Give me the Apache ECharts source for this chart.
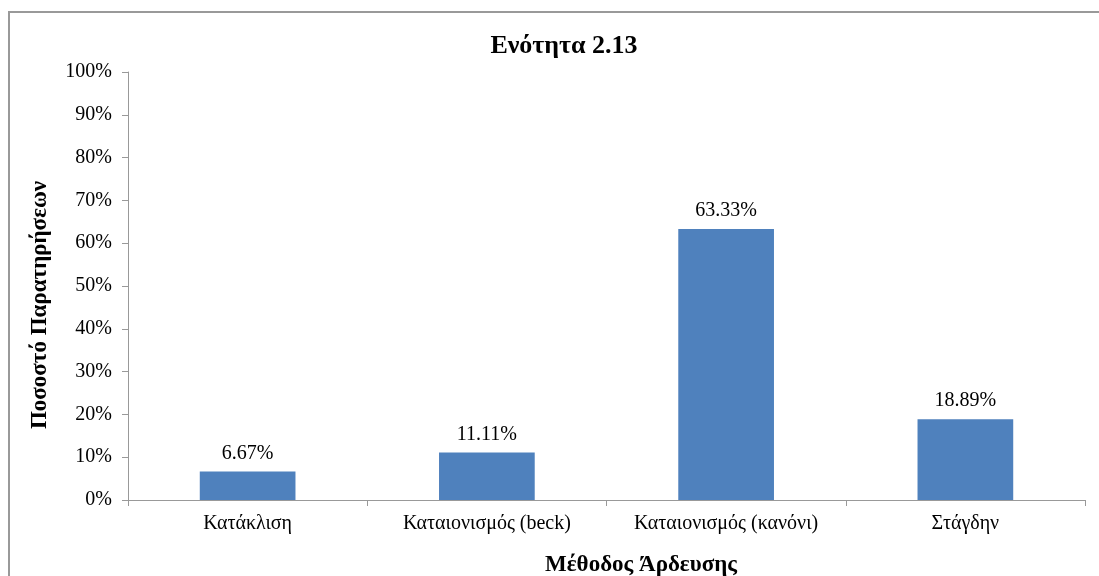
<!DOCTYPE html>
<html><head><meta charset="utf-8">
<script src="https://cdn.jsdelivr.net/npm/echarts@6/dist/echarts.min.js"></script>
<style>html,body{margin:0;padding:0;background:#fff;}#c{width:1099px;height:576px;}</style>
</head><body><div id="c"></div>
<script>
const categories = ['Κατάκλιση', 'Καταιονισμός (beck)', 'Καταιονισμός (κανόνι)', 'Στάγδην'];
const values = [6.67, 11.11, 63.33, 18.89];
const titleText = 'Ενότητα 2.13';
const yName = 'Ποσοστό Παρατηρήσεων';
const xName = 'Μέθοδος Άρδευσης';

const serif = '"Liberation Serif", "DejaVu Serif", serif';
const chart = echarts.init(document.getElementById('c'));
chart.setOption({
  animation: false,
  title: [
    { text: titleText, left: 559, top: 28, textAlign: 'center',
      textStyle: { fontFamily: serif, fontWeight: 'bold', fontSize: 26, color: '#000' } },
    { text: xName, left: 636, top: 549, textAlign: 'center',
      textStyle: { fontFamily: serif, fontWeight: 'bold', fontSize: 23, color: '#000' } }
  ],
  graphic: [
    { type: 'rect', shape: { x: 9, y: 12, width: 1200, height: 700 },
      style: { fill: 'none', stroke: '#999', lineWidth: 2 } },
    { type: 'text', x: 40, y: 305, rotation: Math.PI / 2,
      style: { text: yName, fontFamily: serif, fontWeight: 'bold', fontSize: 23, fill: '#000',
        align: 'center', verticalAlign: 'middle' } }
  ],
  grid: { left: 128, right: 14, top: 72, bottom: 76 },
  xAxis: {
    type: 'category', data: categories,
    axisLine: { lineStyle: { color: '#999' } },
    axisTick: { show: true, length: 6, lineStyle: { color: '#999' } },
    axisLabel: { interval: 0, fontFamily: serif, fontSize: 20, color: '#000', margin: 14 }
  },
  yAxis: {
    type: 'value', min: 0, max: 100, interval: 10,
    axisLine: { show: true, lineStyle: { color: '#999' } },
    axisTick: { show: true, length: 6, lineStyle: { color: '#999' } },
    splitLine: { show: false },
    axisLabel: { fontFamily: serif, fontSize: 20, color: '#000', margin: 16, formatter: '{value}%' }
  },
  series: [{
    type: 'bar', data: values, barWidth: '40%',
    itemStyle: { color: '#4F81BD' },
    label: { show: true, position: 'top', distance: 8, fontFamily: serif, fontSize: 20, color: '#000',
      formatter: p => p.value.toFixed(2) + '%' }
  }]
});
</script></body></html>
